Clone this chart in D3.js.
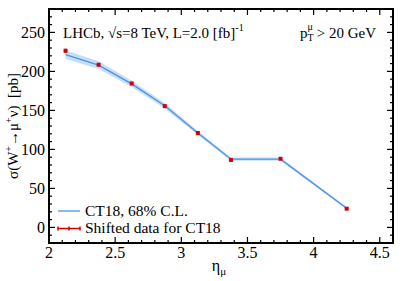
<!DOCTYPE html>
<html>
<head>
<meta charset="utf-8">
<script src="https://cdn.jsdelivr.net/npm/d3@7"></script>
<style>
  body { margin: 0; background: #fff; }
</style>
</head>
<body>
<div id="chart"></div>
<script>
// eta bin centres
const etaCenters = [2.125, 2.375, 2.625, 2.875, 3.125, 3.375, 3.75, 4.25];
// CT18 prediction and 68% C.L. half width
const theory = [221.5, 208, 184, 156, 121, 87.5, 87.5, 24.5];
const theoryErr = [5.5, 5, 4, 3.5, 2.5, 2, 2, 1.5];
// shifted data
const dataVals = [226.5, 208.5, 184.5, 155.5, 121, 86.5, 88, 24];
const dataErr = [2.5, 1.5, 1.5, 1.5, 1, 1, 1, 0.8];

const xTicks = [2, 2.5, 3, 3.5, 4, 4.5];
const yTicks = [0, 50, 100, 150, 200, 250];

const W = 407, H = 281;
const m = {left: 49, right: 14, top: 9, bottom: 38};
const FONT = "'Liberation Serif', 'Times New Roman', serif";

const svg = d3.select("#chart").append("svg")
    .attr("width", W).attr("height", H)
    .attr("font-family", FONT);

const x = d3.scaleLinear().domain([2, 4.6]).range([m.left, W - m.right]);
const y = d3.scaleLinear().domain([-20, 280]).range([H - m.bottom, m.top]);

// band
const area = d3.area()
    .x((d, i) => x(etaCenters[i]))
    .y0((d, i) => y(d - theoryErr[i]))
    .y1((d, i) => y(d + theoryErr[i]));
svg.append("path")
    .attr("d", area(theory))
    .attr("fill", "#c6def7")
    .attr("stroke", "none");

const line = d3.line()
    .x((d, i) => x(etaCenters[i]))
    .y(d => y(d));
svg.append("path")
    .attr("d", line(theory))
    .attr("fill", "none")
    .attr("stroke", "#4a93e6")
    .attr("stroke-width", 1.3);

// data points
dataVals.forEach((v, i) => {
    svg.append("line")
        .attr("x1", x(etaCenters[i])).attr("x2", x(etaCenters[i]))
        .attr("y1", y(v - dataErr[i])).attr("y2", y(v + dataErr[i]))
        .attr("stroke", "#d40000").attr("stroke-width", 1.5);
    svg.append("rect")
        .attr("x", x(etaCenters[i]) - 2)
        .attr("y", y(v) - 2)
        .attr("width", 4).attr("height", 4)
        .attr("fill", "#d40000");
});

// axes: ticks on all four sides, pointing inward
const xMinor = d3.range(2, 4.61, 0.1);
const yMinor = d3.range(-20, 281, 10);
const ax = svg.append("g");

xMinor.forEach(t => {
    const major = xTicks.some(v => Math.abs(v - t) < 1e-6);
    const len = major ? 6 : 3;
    ax.append("line").attr("x1", x(t)).attr("x2", x(t))
        .attr("y1", H - m.bottom).attr("y2", H - m.bottom - len)
        .attr("stroke", "#000").attr("stroke-width", 1.2);
    ax.append("line").attr("x1", x(t)).attr("x2", x(t))
        .attr("y1", m.top).attr("y2", m.top + len)
        .attr("stroke", "#000").attr("stroke-width", 1.2);
});
yMinor.forEach(t => {
    const major = yTicks.includes(t);
    const len = major ? 6 : 3;
    ax.append("line").attr("y1", y(t)).attr("y2", y(t))
        .attr("x1", m.left).attr("x2", m.left + len)
        .attr("stroke", "#000").attr("stroke-width", 1.2);
    ax.append("line").attr("y1", y(t)).attr("y2", y(t))
        .attr("x1", W - m.right).attr("x2", W - m.right - len)
        .attr("stroke", "#000").attr("stroke-width", 1.2);
});

ax.append("rect")
    .attr("x", m.left).attr("y", m.top)
    .attr("width", W - m.left - m.right)
    .attr("height", H - m.top - m.bottom)
    .attr("fill", "none").attr("stroke", "#000").attr("stroke-width", 2);

xTicks.forEach(t => {
    ax.append("text").attr("x", x(t)).attr("y", H - m.bottom + 15)
        .attr("text-anchor", "middle").attr("font-size", 16)
        .text(t);
});
yTicks.forEach(t => {
    ax.append("text").attr("x", m.left - 4).attr("y", y(t) + 5.5)
        .attr("text-anchor", "end").attr("font-size", 16)
        .text(t);
});

// axis titles
svg.append("text")
    .attr("x", 219).attr("y", 271)
    .attr("text-anchor", "middle").attr("font-size", 16)
    .html('η<tspan font-size="11" dy="4">μ</tspan>');

svg.append("text")
    .attr("transform", "translate(18," + y(130) + ") rotate(-90)")
    .attr("text-anchor", "middle").attr("font-size", 15)
    .html('σ(W<tspan font-size="10" dy="-6">+</tspan><tspan dy="6">→μ</tspan><tspan font-size="10" dy="-6">+</tspan><tspan dy="6">ν)\u00a0\u00a0[pb]</tspan>');

// annotations
svg.append("text")
    .attr("x", 63).attr("y", 38).attr("font-size", 15)
    .html('LHCb, √s=8 TeV, L=2.0 [fb]<tspan font-size="10" dy="-7">-1</tspan>');

const pt = svg.append("text")
    .attr("x", 376).attr("y", 38).attr("font-size", 15)
    .attr("text-anchor", "end");
pt.append("tspan").text("p");
pt.append("tspan").attr("font-size", 10).attr("dy", 3).text("T");
pt.append("tspan").attr("font-size", 10).attr("dy", -11).attr("dx", -6).text("μ");
pt.append("tspan").attr("dy", 8).text(" > 20 GeV");

// legend
const lg = svg.append("g");
lg.append("line").attr("x1", 58).attr("x2", 80).attr("y1", 211).attr("y2", 211)
    .attr("stroke", "#4a93e6").attr("stroke-width", 1.3);
lg.append("text").attr("x", 85).attr("y", 216).attr("font-size", 15.5)
    .text("CT18, 68% C.L.");
lg.append("line").attr("x1", 58).attr("x2", 80).attr("y1", 228.5).attr("y2", 228.5)
    .attr("stroke", "#d40000").attr("stroke-width", 1.5);
[58, 69, 80].forEach(px => {
    lg.append("line").attr("x1", px).attr("x2", px).attr("y1", 226.5).attr("y2", 230.5)
        .attr("stroke", "#d40000").attr("stroke-width", 1.5);
});
lg.append("text").attr("x", 85).attr("y", 233).attr("font-size", 15.5)
    .text("Shifted data for CT18");
</script>
</body>
</html>
